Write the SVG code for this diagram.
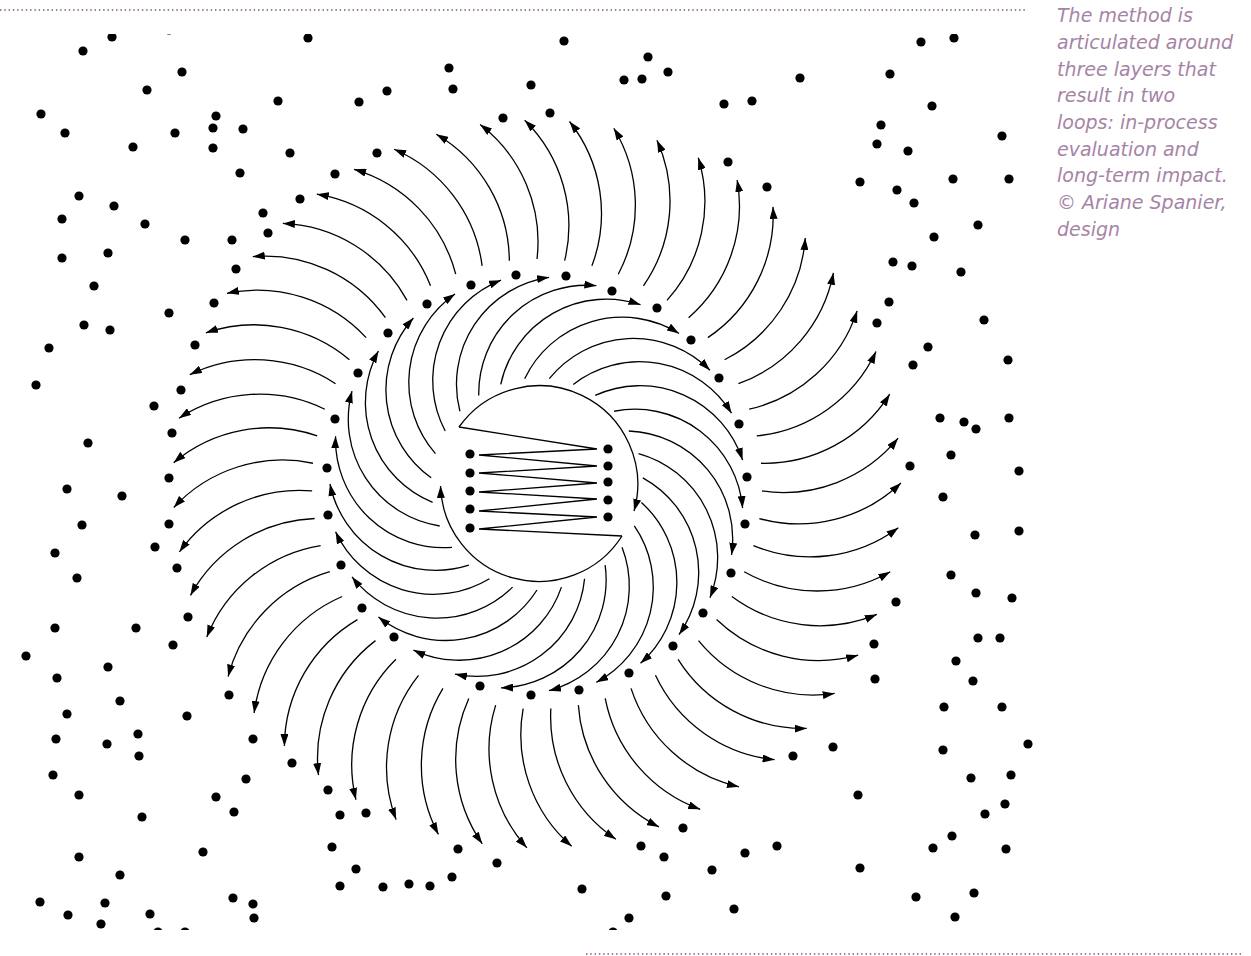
<svg xmlns="http://www.w3.org/2000/svg" xmlns:xlink="http://www.w3.org/1999/xlink" width="1251" height="956" viewBox="0 0 1251 956">
<style>
.ln{fill:none;stroke:#000;stroke-width:1.3;marker-end:url(#ah)}
.dots circle{fill:#000}
.cap{font-family:"DejaVu Sans",sans-serif;font-style:italic;font-size:19px;fill:#a684a6}
.rule{stroke:#7d4d7d;stroke-width:1.6;stroke-dasharray:1.4 2.9;fill:none}
</style>
<defs>
<marker id="ah" markerUnits="userSpaceOnUse" viewBox="0 0 12 8" refX="12" refY="4" markerWidth="12" markerHeight="8" orient="auto"><path d="M0,0 L12,4 L0,8 z" fill="#000"/></marker>
<path id="ia" class="ln" d="M643,484 A108,108 0 0 1 670.06,642.57"/>
<path id="oa" class="ln" d="M762,484 A148,148 0 0 0 896.5,427.1"/>
<clipPath id="clip"><rect x="0" y="34" width="1045" height="896"/></clipPath>
</defs>
<rect width="1251" height="956" fill="#fff"/>
<line class="rule" x1="0" y1="10" x2="1026" y2="10"/>
<line class="rule" x1="586" y1="954" x2="1241" y2="954"/>
<g id="caption" class="cap">
<text x="1057" y="22.3">The method is</text>
<text x="1057" y="49">articulated around</text>
<text x="1057" y="75.7">three layers that</text>
<text x="1057" y="102.4">result in two</text>
<text x="1057" y="129">loops: in-process</text>
<text x="1057" y="155.7">evaluation and</text>
<text x="1057" y="182.4">long-term impact.</text>
<text x="1057" y="209">© Ariane Spanier,</text>
<text x="1057" y="235.7">design</text>
</g>
<g id="connectors">
<g id="inner-loop">
<use xlink:href="#ia" transform="rotate(10 537 484)"/>
<use xlink:href="#ia" transform="rotate(23.333 537 484)"/>
<use xlink:href="#ia" transform="rotate(36.667 537 484)"/>
<use xlink:href="#ia" transform="rotate(50 537 484)"/>
<use xlink:href="#ia" transform="rotate(63.333 537 484)"/>
<use xlink:href="#ia" transform="rotate(76.667 537 484)"/>
<use xlink:href="#ia" transform="rotate(90 537 484)"/>
<use xlink:href="#ia" transform="rotate(103.333 537 484)"/>
<use xlink:href="#ia" transform="rotate(116.667 537 484)"/>
<use xlink:href="#ia" transform="rotate(130 537 484)"/>
<use xlink:href="#ia" transform="rotate(143.333 537 484)"/>
<use xlink:href="#ia" transform="rotate(156.667 537 484)"/>
<use xlink:href="#ia" transform="rotate(170 537 484)"/>
<use xlink:href="#ia" transform="rotate(183.333 537 484)"/>
<use xlink:href="#ia" transform="rotate(196.667 537 484)"/>
<use xlink:href="#ia" transform="rotate(210 537 484)"/>
<use xlink:href="#ia" transform="rotate(223.333 537 484)"/>
<use xlink:href="#ia" transform="rotate(236.667 537 484)"/>
<use xlink:href="#ia" transform="rotate(250 537 484)"/>
<use xlink:href="#ia" transform="rotate(263.333 537 484)"/>
<use xlink:href="#ia" transform="rotate(276.667 537 484)"/>
<use xlink:href="#ia" transform="rotate(290 537 484)"/>
<use xlink:href="#ia" transform="rotate(303.333 537 484)"/>
<use xlink:href="#ia" transform="rotate(316.667 537 484)"/>
<use xlink:href="#ia" transform="rotate(330 537 484)"/>
<use xlink:href="#ia" transform="rotate(343.333 537 484)"/>
<use xlink:href="#ia" transform="rotate(356.667 537 484)"/>
</g>
<g id="outer-loop">
<use xlink:href="#oa" transform="rotate(1.765 537 484)"/>
<use xlink:href="#oa" transform="rotate(8.824 537 484)"/>
<use xlink:href="#oa" transform="rotate(15.882 537 484)"/>
<use xlink:href="#oa" transform="rotate(22.941 537 484)"/>
<use xlink:href="#oa" transform="rotate(30 537 484)"/>
<use xlink:href="#oa" transform="rotate(37.059 537 484)"/>
<use xlink:href="#oa" transform="rotate(44.118 537 484)"/>
<use xlink:href="#oa" transform="rotate(51.176 537 484)"/>
<use xlink:href="#oa" transform="rotate(58.235 537 484)"/>
<use xlink:href="#oa" transform="rotate(65.294 537 484)"/>
<use xlink:href="#oa" transform="rotate(72.353 537 484)"/>
<use xlink:href="#oa" transform="rotate(79.412 537 484)"/>
<use xlink:href="#oa" transform="rotate(86.471 537 484)"/>
<use xlink:href="#oa" transform="rotate(93.529 537 484)"/>
<use xlink:href="#oa" transform="rotate(100.588 537 484)"/>
<use xlink:href="#oa" transform="rotate(107.647 537 484)"/>
<use xlink:href="#oa" transform="rotate(114.706 537 484)"/>
<use xlink:href="#oa" transform="rotate(121.765 537 484)"/>
<use xlink:href="#oa" transform="rotate(128.824 537 484)"/>
<use xlink:href="#oa" transform="rotate(135.882 537 484)"/>
<use xlink:href="#oa" transform="rotate(142.941 537 484)"/>
<use xlink:href="#oa" transform="rotate(150 537 484)"/>
<use xlink:href="#oa" transform="rotate(157.059 537 484)"/>
<use xlink:href="#oa" transform="rotate(164.118 537 484)"/>
<use xlink:href="#oa" transform="rotate(171.176 537 484)"/>
<use xlink:href="#oa" transform="rotate(178.235 537 484)"/>
<use xlink:href="#oa" transform="rotate(185.294 537 484)"/>
<use xlink:href="#oa" transform="rotate(192.353 537 484)"/>
<use xlink:href="#oa" transform="rotate(199.412 537 484)"/>
<use xlink:href="#oa" transform="rotate(206.471 537 484)"/>
<use xlink:href="#oa" transform="rotate(213.529 537 484)"/>
<use xlink:href="#oa" transform="rotate(220.588 537 484)"/>
<use xlink:href="#oa" transform="rotate(227.647 537 484)"/>
<use xlink:href="#oa" transform="rotate(234.706 537 484)"/>
<use xlink:href="#oa" transform="rotate(241.765 537 484)"/>
<use xlink:href="#oa" transform="rotate(248.824 537 484)"/>
<use xlink:href="#oa" transform="rotate(255.882 537 484)"/>
<use xlink:href="#oa" transform="rotate(262.941 537 484)"/>
<use xlink:href="#oa" transform="rotate(270 537 484)"/>
<use xlink:href="#oa" transform="rotate(277.059 537 484)"/>
<use xlink:href="#oa" transform="rotate(284.118 537 484)"/>
<use xlink:href="#oa" transform="rotate(291.176 537 484)"/>
<use xlink:href="#oa" transform="rotate(298.235 537 484)"/>
<use xlink:href="#oa" transform="rotate(305.294 537 484)"/>
<use xlink:href="#oa" transform="rotate(312.353 537 484)"/>
<use xlink:href="#oa" transform="rotate(319.412 537 484)"/>
<use xlink:href="#oa" transform="rotate(326.471 537 484)"/>
<use xlink:href="#oa" transform="rotate(333.529 537 484)"/>
<use xlink:href="#oa" transform="rotate(340.588 537 484)"/>
<use xlink:href="#oa" transform="rotate(347.647 537 484)"/>
<use xlink:href="#oa" transform="rotate(354.706 537 484)"/>
</g>
</g>
<g id="core">
<path class="ln" d="M459,427 A98.5,98.5 0 0 1 634,511"/>
<path class="ln" d="M622,536 A98.5,98.5 0 0 1 440.5,486"/>
<polyline fill="none" stroke="#000" stroke-width="1.3" stroke-linejoin="miter" points="459,427 597,449 479,455 597,466 479,473 597,483 479,492 597,499 479,511 597,517 479,529 622,536"/>
<g class="dots">
<circle cx="470" cy="454" r="4.6"/><circle cx="470" cy="473" r="4.6"/><circle cx="470" cy="491" r="4.6"/><circle cx="470" cy="509" r="4.6"/><circle cx="470" cy="528" r="4.6"/>
<circle cx="608" cy="449" r="4.6"/><circle cx="608" cy="466" r="4.6"/><circle cx="608" cy="482" r="4.6"/><circle cx="608" cy="500" r="4.6"/><circle cx="608" cy="517" r="4.6"/>
</g>
</g>
<g id="middle-ring" class="dots">
<circle cx="566" cy="276" r="4.6"/><circle cx="612" cy="291" r="4.6"/><circle cx="657" cy="308" r="4.6"/><circle cx="691" cy="340" r="4.6"/><circle cx="719" cy="378" r="4.6"/><circle cx="739" cy="424" r="4.6"/><circle cx="747" cy="477" r="4.6"/><circle cx="745" cy="524" r="4.6"/><circle cx="731" cy="573" r="4.6"/><circle cx="703" cy="613" r="4.6"/><circle cx="673" cy="646" r="4.6"/><circle cx="629" cy="673" r="4.6"/><circle cx="579" cy="690" r="4.6"/><circle cx="531" cy="695" r="4.6"/><circle cx="480" cy="686" r="4.6"/><circle cx="394" cy="637" r="4.6"/><circle cx="362" cy="608" r="4.6"/><circle cx="341" cy="565" r="4.6"/><circle cx="328" cy="515" r="4.6"/><circle cx="327" cy="468" r="4.6"/><circle cx="335" cy="419" r="4.6"/><circle cx="358" cy="373" r="4.6"/><circle cx="388" cy="333" r="4.6"/><circle cx="427" cy="304" r="4.6"/><circle cx="471" cy="285" r="4.6"/><circle cx="516" cy="275" r="4.6"/>
</g>
<g id="scatter" class="dots" clip-path="url(#clip)">
<circle cx="112" cy="37" r="4.6"/><circle cx="169" cy="30" r="4.6"/><circle cx="83" cy="51" r="4.6"/><circle cx="147" cy="90" r="4.6"/><circle cx="41" cy="114" r="4.6"/><circle cx="65" cy="133" r="4.6"/><circle cx="133" cy="147" r="4.6"/><circle cx="79" cy="196" r="4.6"/><circle cx="114" cy="206" r="4.6"/><circle cx="62" cy="219" r="4.6"/><circle cx="145" cy="224" r="4.6"/><circle cx="62" cy="258" r="4.6"/><circle cx="108" cy="253" r="4.6"/><circle cx="94" cy="286" r="4.6"/><circle cx="84" cy="325" r="4.6"/><circle cx="110" cy="330" r="4.6"/><circle cx="49" cy="348" r="4.6"/><circle cx="36" cy="385" r="4.6"/><circle cx="154" cy="406" r="4.6"/><circle cx="88" cy="443" r="4.6"/><circle cx="67" cy="489" r="4.6"/><circle cx="122" cy="496" r="4.6"/><circle cx="82" cy="525" r="4.6"/><circle cx="55" cy="553" r="4.6"/><circle cx="155" cy="547" r="4.6"/><circle cx="77" cy="578" r="4.6"/><circle cx="55" cy="628" r="4.6"/><circle cx="136" cy="628" r="4.6"/><circle cx="26" cy="656" r="4.6"/><circle cx="108" cy="667" r="4.6"/><circle cx="57" cy="678" r="4.6"/><circle cx="120" cy="701" r="4.6"/><circle cx="67" cy="714" r="4.6"/><circle cx="56" cy="739" r="4.6"/><circle cx="107" cy="744" r="4.6"/><circle cx="138" cy="734" r="4.6"/><circle cx="139" cy="756" r="4.6"/><circle cx="53" cy="775" r="4.6"/><circle cx="79" cy="795" r="4.6"/><circle cx="142" cy="817" r="4.6"/><circle cx="79" cy="857" r="4.6"/><circle cx="120" cy="875" r="4.6"/><circle cx="40" cy="902" r="4.6"/><circle cx="68" cy="915" r="4.6"/><circle cx="105" cy="903" r="4.6"/><circle cx="101" cy="924" r="4.6"/><circle cx="150" cy="914" r="4.6"/><circle cx="158" cy="932" r="4.6"/>
<circle cx="308" cy="38" r="4.6"/><circle cx="182" cy="72" r="4.6"/><circle cx="387" cy="91" r="4.6"/><circle cx="278" cy="101" r="4.6"/><circle cx="359" cy="102" r="4.6"/><circle cx="216" cy="116" r="4.6"/><circle cx="175" cy="133" r="4.6"/><circle cx="213" cy="128" r="4.6"/><circle cx="243" cy="129" r="4.6"/><circle cx="213" cy="148" r="4.6"/><circle cx="290" cy="153" r="4.6"/><circle cx="240" cy="173" r="4.6"/><circle cx="263" cy="213" r="4.6"/><circle cx="185" cy="240" r="4.6"/><circle cx="232" cy="240" r="4.6"/><circle cx="268" cy="233" r="4.6"/><circle cx="236" cy="269" r="4.6"/><circle cx="300" cy="199" r="4.6"/><circle cx="335" cy="174" r="4.6"/><circle cx="377" cy="153" r="4.6"/><circle cx="214" cy="303" r="4.6"/><circle cx="169" cy="313" r="4.6"/><circle cx="195" cy="345" r="4.6"/><circle cx="181" cy="390" r="4.6"/><circle cx="172" cy="433" r="4.6"/><circle cx="169" cy="478" r="4.6"/><circle cx="503" cy="118" r="4.6"/><circle cx="550" cy="113" r="4.6"/>
<circle cx="169" cy="524" r="4.6"/><circle cx="177" cy="568" r="4.6"/><circle cx="188" cy="617" r="4.6"/><circle cx="173" cy="645" r="4.6"/><circle cx="229" cy="695" r="4.6"/><circle cx="187" cy="716" r="4.6"/><circle cx="253" cy="739" r="4.6"/><circle cx="292" cy="763" r="4.6"/><circle cx="246" cy="779" r="4.6"/><circle cx="216" cy="797" r="4.6"/><circle cx="234" cy="812" r="4.6"/><circle cx="328" cy="790" r="4.6"/><circle cx="340" cy="815" r="4.6"/><circle cx="366" cy="813" r="4.6"/><circle cx="203" cy="852" r="4.6"/><circle cx="332" cy="847" r="4.6"/><circle cx="356" cy="869" r="4.6"/><circle cx="458" cy="849" r="4.6"/><circle cx="452" cy="877" r="4.6"/>
<circle cx="724" cy="104" r="4.6"/><circle cx="752" cy="101" r="4.6"/><circle cx="881" cy="125" r="4.6"/><circle cx="877" cy="144" r="4.6"/><circle cx="908" cy="151" r="4.6"/><circle cx="728" cy="162" r="4.6"/><circle cx="767" cy="187" r="4.6"/><circle cx="860" cy="182" r="4.6"/><circle cx="897" cy="190" r="4.6"/><circle cx="914" cy="203" r="4.6"/><circle cx="893" cy="262" r="4.6"/><circle cx="912" cy="266" r="4.6"/><circle cx="889" cy="302" r="4.6"/><circle cx="877" cy="323" r="4.6"/><circle cx="928" cy="347" r="4.6"/><circle cx="913" cy="365" r="4.6"/><circle cx="910" cy="466" r="4.6"/><circle cx="934" cy="237" r="4.6"/>
<circle cx="896" cy="602" r="4.6"/><circle cx="874" cy="644" r="4.6"/><circle cx="875" cy="679" r="4.6"/><circle cx="833" cy="747" r="4.6"/><circle cx="793" cy="756" r="4.6"/><circle cx="858" cy="795" r="4.6"/><circle cx="683" cy="828" r="4.6"/><circle cx="641" cy="846" r="4.6"/><circle cx="664" cy="857" r="4.6"/><circle cx="745" cy="853" r="4.6"/><circle cx="777" cy="846" r="4.6"/><circle cx="712" cy="870" r="4.6"/><circle cx="860" cy="868" r="4.6"/>
<circle cx="921" cy="42" r="4.6"/><circle cx="954" cy="38" r="4.6"/><circle cx="890" cy="74" r="4.6"/><circle cx="932" cy="106" r="4.6"/><circle cx="1002" cy="136" r="4.6"/><circle cx="953" cy="179" r="4.6"/><circle cx="1009" cy="179" r="4.6"/><circle cx="978" cy="225" r="4.6"/><circle cx="961" cy="272" r="4.6"/><circle cx="984" cy="320" r="4.6"/><circle cx="1008" cy="360" r="4.6"/><circle cx="940" cy="418" r="4.6"/><circle cx="964" cy="422" r="4.6"/><circle cx="976" cy="429" r="4.6"/><circle cx="1009" cy="418" r="4.6"/><circle cx="951" cy="455" r="4.6"/><circle cx="1019" cy="471" r="4.6"/><circle cx="943" cy="497" r="4.6"/><circle cx="975" cy="535" r="4.6"/><circle cx="1019" cy="531" r="4.6"/><circle cx="951" cy="575" r="4.6"/><circle cx="976" cy="593" r="4.6"/><circle cx="1012" cy="598" r="4.6"/><circle cx="978" cy="638" r="4.6"/><circle cx="1000" cy="638" r="4.6"/><circle cx="956" cy="661" r="4.6"/><circle cx="973" cy="681" r="4.6"/><circle cx="944" cy="707" r="4.6"/><circle cx="1002" cy="707" r="4.6"/><circle cx="943" cy="750" r="4.6"/><circle cx="1028" cy="744" r="4.6"/><circle cx="971" cy="778" r="4.6"/><circle cx="1011" cy="775" r="4.6"/><circle cx="985" cy="814" r="4.6"/><circle cx="1005" cy="804" r="4.6"/><circle cx="952" cy="836" r="4.6"/><circle cx="933" cy="848" r="4.6"/><circle cx="1006" cy="849" r="4.6"/><circle cx="916" cy="897" r="4.6"/><circle cx="974" cy="893" r="4.6"/><circle cx="955" cy="917" r="4.6"/>
<circle cx="564" cy="41" r="4.6"/><circle cx="449" cy="68" r="4.6"/><circle cx="453" cy="89" r="4.6"/><circle cx="531" cy="85" r="4.6"/><circle cx="624" cy="80" r="4.6"/><circle cx="642" cy="79" r="4.6"/><circle cx="668" cy="72" r="4.6"/><circle cx="648" cy="57" r="4.6"/><circle cx="800" cy="78" r="4.6"/>
<circle cx="233" cy="898" r="4.6"/><circle cx="253" cy="904" r="4.6"/><circle cx="254" cy="918" r="4.6"/><circle cx="340" cy="886" r="4.6"/><circle cx="383" cy="887" r="4.6"/><circle cx="409" cy="884" r="4.6"/><circle cx="430" cy="886" r="4.6"/><circle cx="497" cy="863" r="4.6"/><circle cx="582" cy="889" r="4.6"/><circle cx="629" cy="918" r="4.6"/><circle cx="734" cy="909" r="4.6"/><circle cx="613" cy="932" r="4.6"/><circle cx="185" cy="932" r="4.6"/><circle cx="666" cy="896" r="4.6"/>
</g>
</svg>
